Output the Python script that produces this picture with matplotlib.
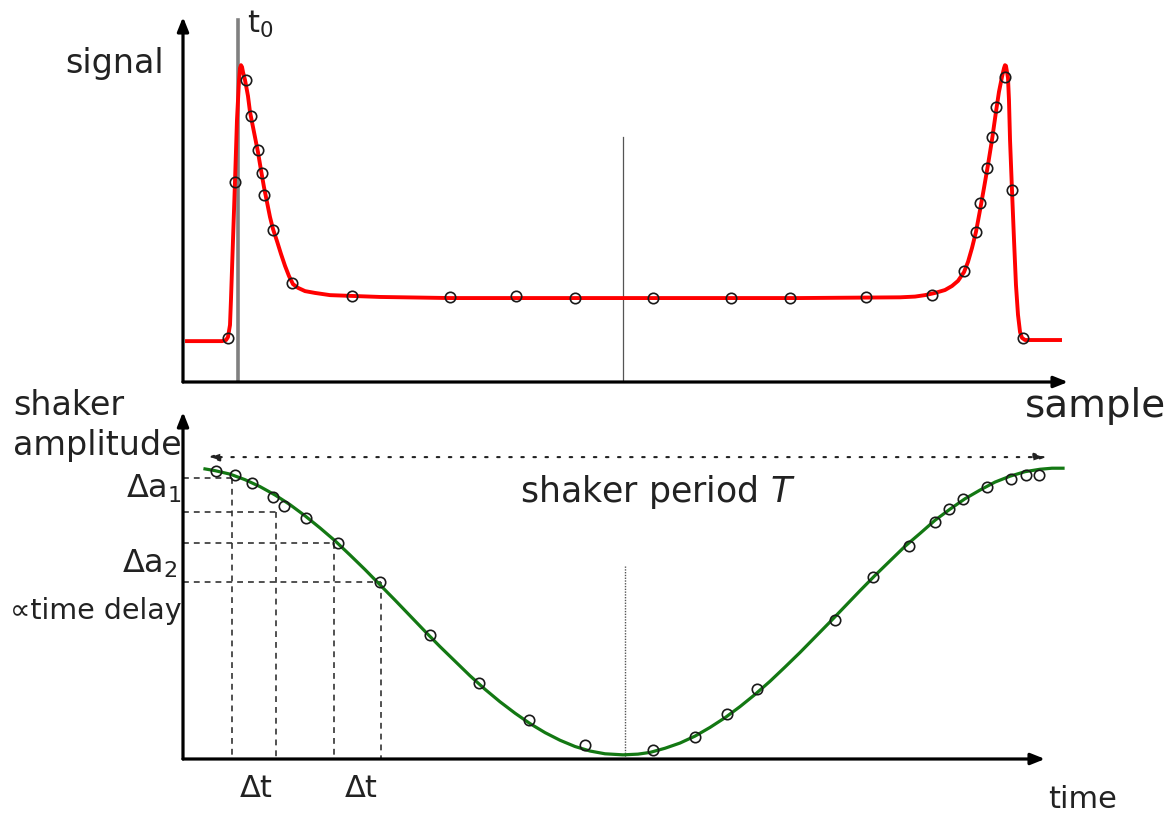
import numpy as np
import matplotlib.pyplot as plt

plt.rcParams['font.family'] = 'DejaVu Sans'
plt.rcParams['mathtext.default'] = 'regular'

# top panel: detector pulse (fit) and samples, signal vs sample index
pulse_x = [0.45, 4.41, 4.86, 5.08, 5.31, 5.42, 5.65, 5.88, 6.10, 6.33, 6.44, 6.55,
           6.67, 6.78, 7.01, 7.34, 7.57, 8.02, 8.47, 8.81, 9.15, 9.49, 9.83,
           10.17, 10.62, 11.07, 11.53, 11.98, 12.43, 12.99, 13.79, 14.92, 16.61,
           18.87, 22.26, 30.17, 47.12, 69.72,
           81.02, 82.71, 83.84, 84.97, 86.10, 86.89, 87.57, 88.25, 88.70, 89.15,
           89.60, 90.06, 90.51, 90.96, 91.41, 91.86, 92.20, 92.54, 92.77, 92.88,
           92.99, 93.22, 93.33, 93.45, 93.67, 93.90, 94.12, 94.35, 94.58, 94.80,
           95.14, 99.10]
pulse_y = [1.12, 1.12, 1.15, 1.23, 1.56, 2.25, 3.89, 5.53, 7.18, 8.27, 8.60, 8.68,
           8.63, 8.49, 8.27, 7.84, 7.40, 6.85, 6.30, 5.81, 5.34, 4.93, 4.52,
           4.19, 3.86, 3.51, 3.18, 2.90, 2.68, 2.58, 2.49, 2.44, 2.38,
           2.36, 2.33, 2.30, 2.30, 2.30,
           2.32, 2.34, 2.38, 2.44, 2.52, 2.63, 2.77, 3.01, 3.29, 3.67,
           4.11, 4.71, 5.32, 5.95, 6.63, 7.40, 7.95, 8.36, 8.60, 8.68,
           8.66, 8.33, 7.73, 6.63, 5.26, 3.89, 2.66, 1.84, 1.37, 1.21,
           1.15, 1.15]
sample_x = [5.08, 5.88, 7.12, 7.68, 8.47, 8.93, 9.15, 10.17, 12.32, 19.10, 30.17,
            37.63, 44.29, 53.11, 61.92, 68.59, 77.18, 84.63, 88.25, 89.60, 90.06,
            90.85, 91.41, 91.86, 92.88, 93.67, 94.92]
sample_y = [1.21, 5.48, 8.27, 7.29, 6.36, 5.73, 5.12, 4.16, 2.71, 2.36, 2.33,
            2.36, 2.30, 2.30, 2.30, 2.30, 2.33, 2.38, 3.04, 4.11, 4.90,
            5.86, 6.71, 7.53, 8.36, 5.26, 1.21]
t0_sample = 6.21
t0_top = 9.92
mid_sample = 49.72
mid_top = 6.71

# bottom panel: shaker amplitude vs time
shaker_fit_t = [2.55, 3.71, 5.45, 7.19, 8.93, 10.67, 12.41, 14.15, 15.89, 17.63,
                19.37, 21.11, 22.85, 24.59, 26.33, 28.07, 29.81, 31.55, 33.29,
                35.03, 36.77, 38.52, 40.26, 42.00, 43.74, 45.48, 47.22, 48.96,
                51.04, 52.78, 54.18, 55.92, 57.66, 59.40, 61.14, 62.88, 64.62,
                66.36, 68.10, 69.84, 71.58, 73.32, 75.06, 76.80, 78.54, 80.28,
                82.02, 83.76, 85.50, 87.24, 88.98, 90.72, 92.46, 94.20, 95.94,
                97.68, 99.42, 100.81, 102.09]
shaker_fit_a = [8.36, 8.31, 8.21, 8.05, 7.85, 7.61, 7.33, 7.01, 6.66, 6.29,
                5.88, 5.46, 5.02, 4.58, 4.13, 3.68, 3.24, 2.82, 2.40,
                2.01, 1.65, 1.32, 1.02, 0.76, 0.54, 0.36, 0.23, 0.15,
                0.12, 0.14, 0.19, 0.31, 0.46, 0.66, 0.91, 1.19, 1.51,
                1.86, 2.24, 2.65, 3.07, 3.51, 3.95, 4.40, 4.85, 5.29,
                5.71, 6.13, 6.50, 6.88, 7.20, 7.50, 7.75, 7.98, 8.15,
                8.28, 8.35, 8.38, 8.38]
shaker_t = [3.83, 6.03, 8.00, 10.44, 11.72, 14.27, 17.98, 22.85, 28.65, 34.34,
            40.14, 46.64, 54.52, 59.40, 63.11, 66.59, 75.64, 80.05, 84.22, 87.24,
            88.86, 90.49, 93.27, 96.06, 97.80, 99.30]
shaker_a = [8.30, 8.18, 7.95, 7.55, 7.29, 6.95, 6.22, 5.10, 3.57, 2.19,
            1.12, 0.40, 0.26, 0.63, 1.30, 2.02, 4.01, 5.24, 6.14, 6.83,
            7.20, 7.49, 7.84, 8.07, 8.18, 8.18]
delay_levels = [8.10, 7.12, 6.22, 5.10]
delay_times = [5.68, 10.79, 17.52, 22.97]
period_start, period_end, period_level = 2.78, 100.2, 8.70
mid_time = 51.28
mid_time_top = 5.56

W, H = 1174, 816
fig = plt.figure(figsize=(W / 100, H / 100), dpi=100)


def px(x, y):
    return x / W, 1 - y / H


def draw_axes_arrows(ax):
    style = '-|>,head_length=0.7,head_width=0.28'
    for end in [(1, 0), (0, 1)]:
        ax.annotate('', xy=end, xytext=(0, 0), xycoords='axes fraction',
                    arrowprops=dict(arrowstyle=style, lw=2.3, color='black',
                                    mutation_scale=12, shrinkA=0, shrinkB=0),
                    annotation_clip=False)


ax1 = fig.add_axes([183 / W, 1 - 382 / H, (1068 - 183) / W, (382 - 17) / H])
ax1.set_xlim(0, 100)
ax1.set_ylim(0, 10)
ax1.axis('off')
draw_axes_arrows(ax1)

ax1.plot([t0_sample, t0_sample], [0, t0_top], color='#808080', lw=2.6, zorder=2)
ax1.plot([mid_sample, mid_sample], [0, mid_top], color='#555555', lw=0.9, zorder=2)
ax1.plot(pulse_x, pulse_y, color='red', lw=2.8, solid_joinstyle='round', zorder=3,
         clip_on=False)
ax1.plot(sample_x, sample_y, 'o', mfc='none', mec='#1a1a1a', ms=7.5, mew=1.2,
         zorder=4, clip_on=False)

ax2 = fig.add_axes([183 / W, 1 - 759 / H, (1045 - 183) / W, (759 - 412) / H])
ax2.set_xlim(0, 100)
ax2.set_ylim(0, 10)
ax2.axis('off')
draw_axes_arrows(ax2)

for lev, t in zip(delay_levels, delay_times):
    ax2.plot([0, t], [lev, lev], color='#333333', lw=1.2, ls=(0, (3.5, 3)), zorder=2)
    ax2.plot([t, t], [lev, 0], color='#333333', lw=1.2, ls=(0, (3.5, 3)), zorder=2)

ax2.plot([mid_time, mid_time], [0, mid_time_top], color='#555555', lw=1.0,
         ls=(0, (1, 1)), zorder=2)
ax2.annotate('', xy=(period_start, period_level), xytext=(period_end, period_level),
             arrowprops=dict(arrowstyle='<|-|>,head_length=0.6,head_width=0.2',
                             lw=1.5, ls=(0, (1.2, 4.6)), color='#222222',
                             mutation_scale=12, shrinkA=0, shrinkB=0),
             annotation_clip=False)
ax2.plot(shaker_fit_t, shaker_fit_a, color='#137813', lw=2.3, zorder=3,
         solid_joinstyle='round', clip_on=False)
ax2.plot(shaker_t, shaker_a, 'o', mfc='none', mec='#1a1a1a', ms=7.5, mew=1.2,
         zorder=4, clip_on=False)

txt = dict(color='#222222', va='baseline')
fig.text(*px(247, 33), 't$_0$', fontsize=22, **txt)
fig.text(*px(65, 73), 'signal', fontsize=24, **txt)
fig.text(*px(1025, 417), 'sample', fontsize=28, **txt)
fig.text(*px(13, 415), 'shaker', fontsize=24, **txt)
fig.text(*px(13, 455), 'amplitude', fontsize=24, **txt)
fig.text(*px(182, 498), r'Δa$_1$', fontsize=23, ha='right', **txt)
fig.text(*px(178, 573), r'Δa$_2$', fontsize=23, ha='right', **txt)
fig.text(*px(182, 619), '∝time delay', fontsize=20.5, ha='right', **txt)
fig.text(*px(256, 797), 'Δt', fontsize=22, ha='center', **txt)
fig.text(*px(361, 797), 'Δt', fontsize=22, ha='center', **txt)
fig.text(*px(1048, 808), 'time', fontsize=22, **txt)
fig.text(*px(520, 502), r'shaker period $\mathit{T}$', fontsize=25, **txt)

fig.savefig('out.png', dpi=100)
